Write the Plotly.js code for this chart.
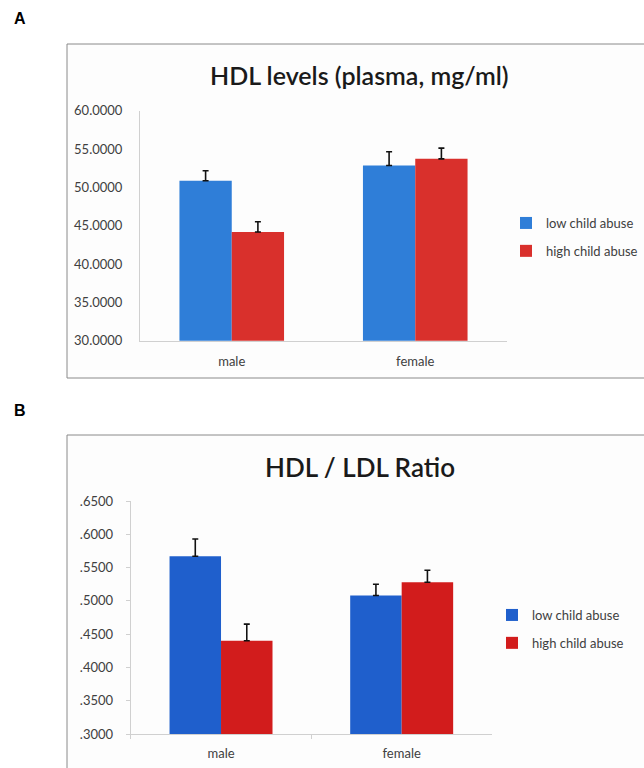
<!DOCTYPE html>
<html>
<head>
<meta charset="utf-8">
<script src="https://cdn.plot.ly/plotly-3.0.1.min.js"></script>
<style>html,body{margin:0;padding:0;background:#fff;}#chart{width:644px;height:768px;}</style>
</head>
<body>
<div id="chart"></div>
<script>
// ---- data ----
const categories = ['male', 'female'];
const seriesNames = ['low child abuse', 'high child abuse'];

const hdlLow = [50.86, 52.85];
const hdlHigh = [44.17, 53.72];
const hdlLowErr = [1.30, 1.80];
const hdlHighErr = [1.35, 1.40];

const ratioLow = [0.567, 0.508];
const ratioHigh = [0.440, 0.528];
const ratioLowErr = [0.026, 0.017];
const ratioHighErr = [0.025, 0.018];

const hdlTickVals = [30, 35, 40, 45, 50, 55, 60];
const hdlTickText = ['30.0000', '35.0000', '40.0000', '45.0000', '50.0000', '55.0000', '60.0000'];
const ratioTickVals = [0.30, 0.35, 0.40, 0.45, 0.50, 0.55, 0.60, 0.65];
const ratioTickText = ['.3000', '.3500', '.4000', '.4500', '.5000', '.5500', '.6000', '.6500'];

// ---- helpers ----
const W = 644, H = 768;
const px = v => v / W;
const py = v => 1 - v / H;
const FONT = 'Lato, "Open Sans", sans-serif';
const zeros = n => new Array(n).fill(0);

function err(arr) {
  return {type: 'data', symmetric: false, array: arr, arrayminus: zeros(arr.length),
          color: '#111', thickness: 1.6, width: 3};
}

const traces = [
  {type: 'bar', x: categories, y: hdlLow, name: seriesNames[0], xaxis: 'x', yaxis: 'y',
   marker: {color: '#2f7ed8'}, error_y: err(hdlLowErr), legend: 'legend', legendgroup: 'a1'},
  {type: 'bar', x: categories, y: hdlHigh, name: seriesNames[1], xaxis: 'x', yaxis: 'y',
   marker: {color: '#d9302c'}, error_y: err(hdlHighErr), legend: 'legend', legendgroup: 'a2'},
  {type: 'bar', x: categories, y: ratioLow, name: seriesNames[0], xaxis: 'x2', yaxis: 'y2',
   marker: {color: '#1f5fcc'}, error_y: err(ratioLowErr), legend: 'legend2', legendgroup: 'b1'},
  {type: 'bar', x: categories, y: ratioHigh, name: seriesNames[1], xaxis: 'x2', yaxis: 'y2',
   marker: {color: '#d21c1c'}, error_y: err(ratioHighErr), legend: 'legend2', legendgroup: 'b2'}
];

const axisFont = {family: FONT, size: 13, color: '#404040'};

const layout = {
  width: W, height: H,
  margin: {l: 0, r: 0, t: 0, b: 0},
  paper_bgcolor: '#ffffff',
  plot_bgcolor: 'rgba(0,0,0,0)',
  barmode: 'group',
  bargap: 0.43,
  bargroupgap: 0,
  showlegend: true,
  xaxis: {domain: [px(140), px(507)], anchor: 'y', showline: true, linecolor: '#d0d0d0', linewidth: 1,
          ticks: '', showgrid: false, zeroline: false, tickfont: axisFont, ticklabelstandoff: 9, fixedrange: true},
  yaxis: {domain: [py(340.7), py(110.7)], anchor: 'x', range: [30, 60], showline: true, linecolor: '#d0d0d0',
          linewidth: 1, ticks: '', showgrid: false, zeroline: false, tickvals: hdlTickVals, ticktext: hdlTickText,
          tickfont: axisFont, ticklabelstandoff: 14, fixedrange: true},
  xaxis2: {domain: [px(130.7), px(492)], anchor: 'y2', showline: true, linecolor: '#d0d0d0', linewidth: 1,
           ticks: 'outside', ticklen: 4, tickcolor: '#d0d0d0', tickson: 'boundaries', showgrid: false,
           zeroline: false, tickfont: axisFont, ticklabelstandoff: 7, fixedrange: true},
  yaxis2: {domain: [py(734), py(501)], anchor: 'x2', range: [0.3, 0.65], showline: true, linecolor: '#d0d0d0',
           linewidth: 1, ticks: 'outside', ticklen: 4, tickcolor: '#d0d0d0', showgrid: false, zeroline: false,
           tickvals: ratioTickVals, ticktext: ratioTickText, tickfont: axisFont, ticklabelstandoff: 10, fixedrange: true},
  legend: {x: px(506), y: py(208), xanchor: 'left', yanchor: 'top', bgcolor: 'rgba(0,0,0,0)',
           font: {family: FONT, size: 13, color: '#404040'}, traceorder: 'grouped', tracegroupgap: 8},
  legend2: {x: px(492), y: py(600), xanchor: 'left', yanchor: 'top', bgcolor: 'rgba(0,0,0,0)',
            font: {family: FONT, size: 13, color: '#404040'}, traceorder: 'grouped', tracegroupgap: 8},
  shapes: [
    {type: 'rect', xref: 'paper', yref: 'paper', x0: px(67), x1: px(660), y0: py(378), y1: py(44),
     line: {color: '#8a8a8a', width: 1}, fillcolor: '#fdfdfd', layer: 'below'},
    {type: 'rect', xref: 'paper', yref: 'paper', x0: px(67), x1: px(660), y0: py(790), y1: py(435),
     line: {color: '#8a8a8a', width: 1}, fillcolor: '#fdfdfd', layer: 'below'}
  ],
  annotations: [
    {text: '<b>A</b>', xref: 'paper', yref: 'paper', x: px(12), y: py(18), xanchor: 'left', yanchor: 'middle',
     showarrow: false, font: {family: 'Liberation Sans, Arial, sans-serif', size: 16, color: '#000'}},
    {text: '<b>B</b>', xref: 'paper', yref: 'paper', x: px(12), y: py(410), xanchor: 'left', yanchor: 'middle',
     showarrow: false, font: {family: 'Liberation Sans, Arial, sans-serif', size: 16, color: '#000'}},
    {text: 'HDL levels (plasma, mg/ml)', xref: 'paper', yref: 'paper', x: px(359), y: py(75), xanchor: 'center',
     yanchor: 'middle', showarrow: false, font: {family: FONT, size: 25, weight: 600, color: '#1a1a1a'}},
    {text: 'HDL / LDL Ratio', xref: 'paper', yref: 'paper', x: px(360), y: py(467), xanchor: 'center',
     yanchor: 'middle', showarrow: false, font: {family: FONT, size: 26, weight: 600, color: '#1a1a1a'}}
  ]
};

Plotly.newPlot('chart', traces, layout, {displayModeBar: false, staticPlot: true});
</script>
</body>
</html>
